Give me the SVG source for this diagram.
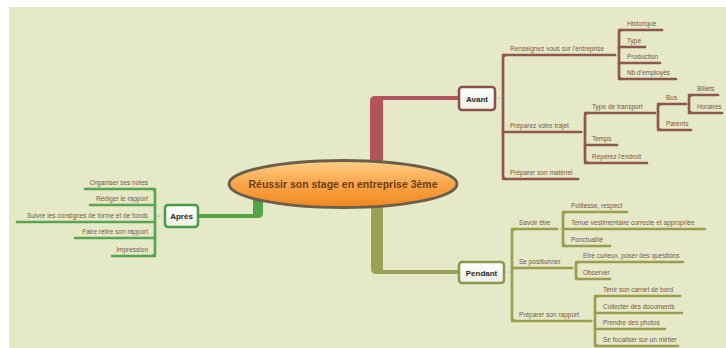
<svg xmlns="http://www.w3.org/2000/svg" width="726" height="348" viewBox="0 0 726 348">
<defs>
<linearGradient id="og" x1="0" y1="0" x2="0" y2="1">
<stop offset="0" stop-color="#ffd08a"/>
<stop offset="0.5" stop-color="#fba54a"/>
<stop offset="1" stop-color="#f0861c"/>
</linearGradient>
<linearGradient id="ng" x1="0" y1="0" x2="0" y2="1">
<stop offset="0" stop-color="#ffffff"/>
<stop offset="1" stop-color="#eef0e4"/>
</linearGradient>
<style>
.t{font-family:"Liberation Sans",Arial,sans-serif;font-size:6.5px;fill:#7a5646}
.n{font-family:"Liberation Sans",Arial,sans-serif;font-size:8px;font-weight:bold;fill:#2a2a2a;text-anchor:middle}
.e{text-anchor:end}
.la{fill:none;stroke:#8e5850;stroke-width:2.7;stroke-linecap:round}
.lp{fill:none;stroke:#9a9e4e;stroke-width:2.7;stroke-linecap:round}
.lg{fill:none;stroke:#5aa650;stroke-width:2.7;stroke-linecap:round}
.d{fill:none;stroke:#9fb4d2;stroke-width:1;stroke-dasharray:1.5 1}
</style>
</defs>
<rect width="726" height="348" fill="#ffffff"/>
<rect x="9" y="7" width="717" height="341" fill="#e5e9c8"/>

<g id="connectors">
<path d="M370,168 V101 Q370,96 375,96 H459 V100 H383 V168 Z" fill="#b3545c"/>
<path d="M371,200 V269 Q371,274 376,274 H459 V270 H383 V200 Z" fill="#9ba052"/>
<path d="M263,198 V213 Q263,218 258,218 H198 V214 H253 V198 Z" fill="#52a648"/>
<line class="d" x1="495" y1="98" x2="503" y2="98"/>
<line class="d" x1="615" y1="55" x2="619" y2="55"/>
<line class="d" x1="581" y1="132" x2="585" y2="132"/>
<line class="d" x1="655" y1="113" x2="658" y2="113"/>
<line class="d" x1="686" y1="104" x2="689" y2="104"/>
<line class="d" x1="504" y1="272" x2="512" y2="272"/>
<line class="d" x1="557" y1="229" x2="563" y2="229"/>
<line class="d" x1="572" y1="268" x2="576" y2="268"/>
<line class="d" x1="591" y1="321" x2="595" y2="321"/>
<line class="d" x1="165" y1="216" x2="155" y2="216"/>
<path class="la" d="M506,55 Q503,55 503,58 V176 Q503,179 506,179"/>
<path class="la" d="M503,55 H615 M503,132 H581 M503,179 H578"/>
<path class="la" d="M622,30 Q619,30 619,33 V76 Q619,79 622,79"/>
<path class="la" d="M619,30 H662 M619,47 H645 M619,63 H660 M619,79 H676"/>
<path class="la" d="M588,113 Q585,113 585,116 V160 Q585,163 588,163"/>
<path class="la" d="M585,113 H655 M585,145 H617 M585,163 H647"/>
<path class="la" d="M661,104 Q658,104 658,107 V127 Q658,130 661,130"/>
<path class="la" d="M658,104 H686 M658,130 H691"/>
<path class="la" d="M692,95 Q689,95 689,98 V110 Q689,113 692,113"/>
<path class="la" d="M689,95 H718 M689,113 H722"/>
<path class="lp" d="M515,229 Q512,229 512,232 V318 Q512,321 515,321"/>
<path class="lp" d="M512,229 H557 M512,268 H572 M512,321 H591"/>
<path class="lp" d="M566,212 Q563,212 563,215 V243 Q563,246 566,246"/>
<path class="lp" d="M563,212 H627 M563,229 H705 M563,246 H610"/>
<path class="lp" d="M579,262 Q576,262 576,265 V276 Q576,279 579,279"/>
<path class="lp" d="M576,262 H683 M576,279 H610"/>
<path class="lp" d="M598,296 Q595,296 595,299 V343 Q595,346 598,346"/>
<path class="lp" d="M595,296 H680 M595,313 H682 M595,329 H665 M595,346 H678"/>
<path class="lg" d="M152,189 Q155,189 155,192 V253 Q155,256 152,256"/>
<path class="lg" d="M155,189 H85 M155,205 H90 M155,222 H17 M155,238 H75 M155,256 H112"/>
</g>

<g id="central">
<ellipse cx="343" cy="184" rx="114" ry="23.5" fill="url(#og)" stroke="#6a5e4e" stroke-width="2.8"/>
<text x="343" y="188" font-family="Liberation Sans,Arial,sans-serif" font-size="10.5" font-weight="bold" fill="#6b3f1a" text-anchor="middle">Réussir son stage en entreprise 3ème</text>
</g>

<g id="avant">
<rect x="459" y="87" width="36" height="23" rx="3" fill="url(#ng)" stroke="#8a5048" stroke-width="2.5"/>
<text class="n" x="477" y="101.5">Avant</text>
</g>
<g id="pendant">
<rect x="459" y="262" width="45" height="21" rx="3" fill="url(#ng)" stroke="#8f9650" stroke-width="2.5"/>
<text class="n" x="481.5" y="275.5">Pendant</text>
</g>
<g id="apres">
<rect x="165" y="205" width="33" height="22" rx="3" fill="url(#ng)" stroke="#4a9a45" stroke-width="2.5"/>
<text class="n" x="181.5" y="219">Après</text>
</g>

<g id="avant-topics">
<text class="t" x="510" y="51">Renseignez vous sur l'entreprise</text>
<text class="t" x="510" y="128">Préparez votre trajet</text>
<text class="t" x="510" y="175">Préparer son matériel</text>
<text class="t" x="627" y="26">Historique</text>
<text class="t" x="627" y="43">Type</text>
<text class="t" x="627" y="59">Production</text>
<text class="t" x="627" y="75">Nb d'employés</text>
<text class="t" x="592" y="109">Type de transport</text>
<text class="t" x="592" y="141">Temps</text>
<text class="t" x="592" y="159">Repérez l'endroit</text>
<text class="t" x="666" y="100">Bus</text>
<text class="t" x="666" y="126">Parents</text>
<text class="t" x="697" y="91">Billets</text>
<text class="t" x="697" y="109">Horaires</text>
</g>

<g id="pendant-topics">
<text class="t" x="519" y="225">Savoir être</text>
<text class="t" x="519" y="264">Se positionner</text>
<text class="t" x="519" y="317">Préparer son rapport</text>
<text class="t" x="571" y="208">Politesse, respect</text>
<text class="t" x="571" y="225">Tenue vestimentaire correcte et appropriée</text>
<text class="t" x="571" y="242">Ponctualité</text>
<text class="t" x="583" y="258">Etre curieux, poser des questions</text>
<text class="t" x="583" y="275">Observer</text>
<text class="t" x="603" y="292">Tenir son carnet de bord</text>
<text class="t" x="603" y="309">Collecter des documents</text>
<text class="t" x="603" y="325">Prendre des photos</text>
<text class="t" x="603" y="342">Se focaliser sur un métier</text>
</g>

<g id="apres-topics">
<text class="t e" x="148" y="185">Organiser ses notes</text>
<text class="t e" x="148" y="201">Rédiger le rapport</text>
<text class="t e" x="148" y="218">Suivre les consignes de forme et de fonds</text>
<text class="t e" x="148" y="234">Faire relire son rapport</text>
<text class="t e" x="148" y="252">Impression</text>
</g>
</svg>
